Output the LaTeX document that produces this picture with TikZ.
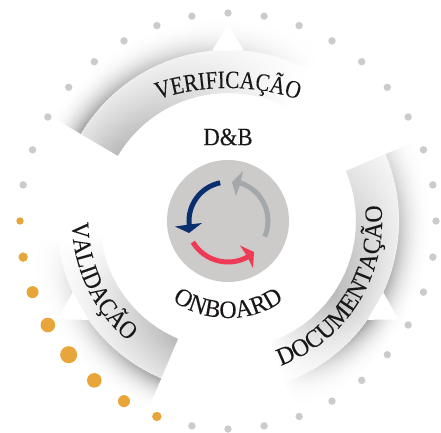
\documentclass[tikz,border=0pt]{standalone}
\usepackage{fontspec}
\setmainfont{Liberation Serif}
\newfontfamily\labfont[FakeStretch=0.85,FakeBold=0.05]{Liberation Serif}
\newfontfamily\labmid[FakeStretch=0.91,FakeBold=0.05]{Liberation Serif}
\newfontfamily\labwide[FakeStretch=0.96,FakeBold=0.05]{Liberation Serif}
\usetikzlibrary{decorations.text}
\definecolor{shd}{HTML}{58595B}
\definecolor{ink}{HTML}{1A1718}
\definecolor{dotgrey}{HTML}{CDCACA}
\definecolor{dotorange}{HTML}{E8A63A}
\definecolor{hubgrey}{HTML}{CDCACA}
\definecolor{arrblue}{HTML}{0A2F6E}
\definecolor{arrgrey}{HTML}{A3A8AA}
\definecolor{arrred}{HTML}{EE3A55}
% #1 dark-end angle, #2 fade-end angle, #3 position of peak (0..1 from fade end), #4 strength at dark end
\newcommand\fan[4]{%
  \foreach \i in {0,...,59}{%
    \pgfmathsetmacro\aa{#2+(#1-#2)*\i/60}%
    \pgfmathsetmacro\bb{#2+(#1-#2)*(\i+1)/60}%
    \pgfmathsetmacro\cc{\aa-0.4}%
    \pgfmathsetmacro\ff{(\i+1)/60}%
    \pgfmathsetmacro\gg{\ff<#3 ? \ff/#3 : 1-(1-#4)*(\ff-#3)/(1-#3+0.0001)}%
    \foreach \r in {203,201,...,171}{%
      \pgfmathsetmacro\x{50*\gg*((205-\r)/34)^2.5}%
      \pgfmathsetmacro\rr{\r+2.4}%
      \fill[shd!\x!white] (\cc:\r)--(\bb:\r)--(\bb:\rr)--(\cc:\rr)--cycle;
    }%
    \foreach \r in {168,166,...,128}{%
      \pgfmathsetmacro\x{\gg*(14+27*(170-\r)/42)}%
      \pgfmathsetmacro\rr{\r+2.4}%
      \fill[shd!\x!white] (\cc:\r)--(\bb:\r)--(\bb:\rr)--(\cc:\rr)--cycle;
    }%
  }%
}
\tikzset{
  x=1pt,y=1pt,
  arctext/.style 2 args={decorate,decoration={text along path,text align=center,
    text={|#1\fontsize{25}{25}\selectfont\color{ink}|#2}}},
  tri/.style={fill=white},
  greydot/.style={fill=dotgrey},
  orangedot/.style={fill=dotorange}
}
\begin{document}
\begin{tikzpicture}
\useasboundingbox (-228,-211) rectangle (213,221);
\fill[white] (-228,-211) rectangle (213,221);
% bands and shadows
\fan{149.4}{62}{1}{1}
\fan{23}{-70}{0.38}{0.4}
\fan{247}{187}{1}{1}
% white triangles
\foreach \t in {90,-30,210}{
  \pgfmathsetmacro\pa{\t+5.3}\pgfmathsetmacro\pb{\t-5.3}
  \fill[tri] (\t:197)--(\pa:171)--(\pb:171)--cycle;
}
% dots
\foreach \t in {0,10,...,170,270,280,...,350}{\fill[greydot] (\t:208) circle (3.7);}
\foreach \t/\rd in {180/3.7,190/4.7,200/6,210/7.3,220/8.5,230/7.3,240/6,250/4.7}{\fill[orangedot] (\t:208) circle (\rd);}
\fill[greydot] (260:208) circle (3.7);
% hub
\node[circle,fill=hubgrey,minimum size=122pt,inner sep=0pt] (hub) at (0,0) {};
% arrows
\draw[arrblue,line width=5pt] (101.6:39) arc[start angle=101.6,end angle=186,radius=39];
\fill[arrblue] (-39,-12) -- (-53,-5.5) -- (-39,-3.5) -- (-26,-2) -- cycle;
\draw[arrgrey,line width=5pt] (-23:40) arc[start angle=-23,end angle=72,radius=40];
\fill[arrgrey] (4,39) -- (15,50) -- (12,36) -- (8,25) -- cycle;
\draw[arrred,line width=5pt] (211:41) arc[start angle=211,end angle=299,radius=41];
\fill[arrred] (12,-24.5) -- (26,-31) -- (25,-47) -- (19,-35) -- cycle;
% labels
\begin{scope}[shift={(0,-87)}]
\path[arctext={\labfont}{VERIFICAÇÃO}] (110:220) arc[start angle=110,end angle=70,radius=220];
\end{scope}
\path[arctext={\labwide}{DOCUMENTAÇÃO}] (-72:154) arc[start angle=-72,end angle=8,radius=154];
\path[arctext={\labmid}{VALIDAÇÃO}] (179:156) arc[start angle=179,end angle=232,radius=156];
\path[arctext={\labwide}{ONBOARD}] (232:97) arc[start angle=232,end angle=308,radius=97];
\node[font=\labmid\fontsize{25}{25}\selectfont,text=ink,inner sep=0pt] (db) at (0,84) {D\&B};
\end{tikzpicture}
\end{document}
